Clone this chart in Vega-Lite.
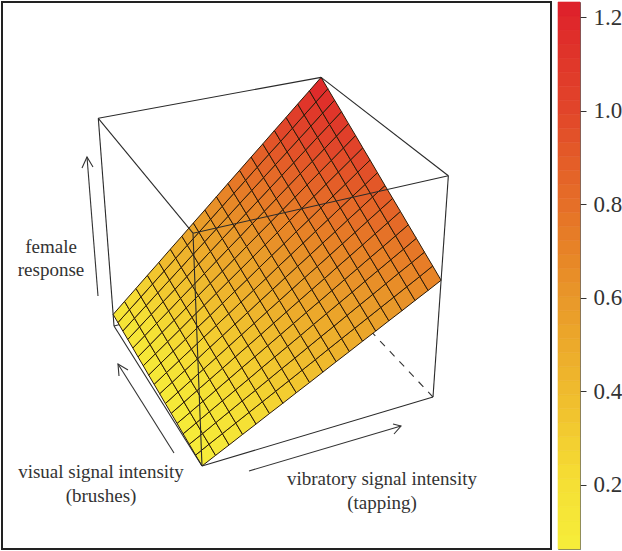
{"$schema":"https://vega.github.io/schema/vega-lite/v6.json","padding":{"left":1,"top":1,"right":0,"bottom":0},"background":"white","spacing":5,"datasets":{"edges":[{"e":"CD","t":"h","k":0,"u":0,"v":1,"w":0},{"e":"CD","t":"h","k":1,"u":1,"v":1,"w":0},{"e":"BD","t":"h","k":0,"u":1,"v":0,"w":0},{"e":"BD","t":"h","k":1,"u":1,"v":1,"w":0},{"e":"DH","t":"h","k":0,"u":1,"v":1,"w":0},{"e":"DH","t":"h","k":1,"u":1,"v":1,"w":1},{"e":"AB","t":"f","k":0,"u":0,"v":0,"w":0},{"e":"AB","t":"f","k":1,"u":1,"v":0,"w":0},{"e":"AC","t":"f","k":0,"u":0,"v":0,"w":0},{"e":"AC","t":"f","k":1,"u":0,"v":1,"w":0},{"e":"AE","t":"f","k":0,"u":0,"v":0,"w":0},{"e":"AE","t":"f","k":1,"u":0,"v":0,"w":1},{"e":"BF","t":"f","k":0,"u":1,"v":0,"w":0},{"e":"BF","t":"f","k":1,"u":1,"v":0,"w":1},{"e":"CG","t":"f","k":0,"u":0,"v":1,"w":0},{"e":"CG","t":"f","k":1,"u":0,"v":1,"w":1},{"e":"EF","t":"f","k":0,"u":0,"v":0,"w":1},{"e":"EF","t":"f","k":1,"u":1,"v":0,"w":1},{"e":"EG","t":"f","k":0,"u":0,"v":0,"w":1},{"e":"EG","t":"f","k":1,"u":0,"v":1,"w":1},{"e":"FH","t":"f","k":0,"u":1,"v":0,"w":1},{"e":"FH","t":"f","k":1,"u":1,"v":1,"w":1},{"e":"GH","t":"f","k":0,"u":0,"v":1,"w":1},{"e":"GH","t":"f","k":1,"u":1,"v":1,"w":1}]},"hconcat":[{"width":549,"height":547,"view":{"stroke":"#222","strokeWidth":2},"layer":[{"data":{"name":"edges"},"transform":[{"filter":"datum.t=='h'"},{"calculate":"1+0.176*datum.u+0.078*datum.v-0.1*datum.w","as":"d"},{"calculate":"(201-68.1*datum.u+264.7*datum.v-28.2*datum.w)/datum.d","as":"x"},{"calculate":"(465-82.8*datum.u-38.1*datum.v-256*datum.w)/datum.d","as":"y"}],"mark":{"type":"line","stroke":"#333","strokeWidth":1.1,"strokeDash":[7,7],"clip":true},"encoding":{"x":{"field":"x","type":"quantitative","scale":{"domain":[1,550]},"axis":null},"y":{"field":"y","type":"quantitative","scale":{"domain":[548,1]},"axis":null},"detail":{"field":"e"},"order":{"field":"k"}}},{"data":{"values":[
{"u":0,"v":0,"z":0.07},{"u":0,"v":1,"z":0.106},{"u":0,"v":2,"z":0.141},{"u":0,"v":3,"z":0.177},{"u":0,"v":4,"z":0.212},{"u":0,"v":5,"z":0.248},{"u":0,"v":6,"z":0.283},{"u":0,"v":7,"z":0.319},{"u":0,"v":8,"z":0.354},{"u":0,"v":9,"z":0.39},{"u":0,"v":10,"z":0.426},{"u":0,"v":11,"z":0.461},{"u":0,"v":12,"z":0.497},{"u":0,"v":13,"z":0.532},{"u":0,"v":14,"z":0.568},{"u":0,"v":15,"z":0.603},{"u":0,"v":16,"z":0.639},{"u":0,"v":17,"z":0.674},{"u":0,"v":18,"z":0.71},
{"u":1,"v":0,"z":0.074},{"u":1,"v":1,"z":0.112},{"u":1,"v":2,"z":0.149},{"u":1,"v":3,"z":0.186},{"u":1,"v":4,"z":0.223},{"u":1,"v":5,"z":0.26},{"u":1,"v":6,"z":0.297},{"u":1,"v":7,"z":0.334},{"u":1,"v":8,"z":0.371},{"u":1,"v":9,"z":0.408},{"u":1,"v":10,"z":0.446},{"u":1,"v":11,"z":0.483},{"u":1,"v":12,"z":0.52},{"u":1,"v":13,"z":0.557},{"u":1,"v":14,"z":0.594},{"u":1,"v":15,"z":0.631},{"u":1,"v":16,"z":0.668},{"u":1,"v":17,"z":0.705},{"u":1,"v":18,"z":0.743},
{"u":2,"v":0,"z":0.079},{"u":2,"v":1,"z":0.117},{"u":2,"v":2,"z":0.156},{"u":2,"v":3,"z":0.195},{"u":2,"v":4,"z":0.234},{"u":2,"v":5,"z":0.272},{"u":2,"v":6,"z":0.311},{"u":2,"v":7,"z":0.35},{"u":2,"v":8,"z":0.388},{"u":2,"v":9,"z":0.427},{"u":2,"v":10,"z":0.466},{"u":2,"v":11,"z":0.504},{"u":2,"v":12,"z":0.543},{"u":2,"v":13,"z":0.582},{"u":2,"v":14,"z":0.62},{"u":2,"v":15,"z":0.659},{"u":2,"v":16,"z":0.698},{"u":2,"v":17,"z":0.736},{"u":2,"v":18,"z":0.775},
{"u":3,"v":0,"z":0.083},{"u":3,"v":1,"z":0.123},{"u":3,"v":2,"z":0.164},{"u":3,"v":3,"z":0.204},{"u":3,"v":4,"z":0.244},{"u":3,"v":5,"z":0.284},{"u":3,"v":6,"z":0.325},{"u":3,"v":7,"z":0.365},{"u":3,"v":8,"z":0.405},{"u":3,"v":9,"z":0.445},{"u":3,"v":10,"z":0.486},{"u":3,"v":11,"z":0.526},{"u":3,"v":12,"z":0.566},{"u":3,"v":13,"z":0.606},{"u":3,"v":14,"z":0.647},{"u":3,"v":15,"z":0.687},{"u":3,"v":16,"z":0.727},{"u":3,"v":17,"z":0.767},{"u":3,"v":18,"z":0.808},
{"u":4,"v":0,"z":0.088},{"u":4,"v":1,"z":0.129},{"u":4,"v":2,"z":0.171},{"u":4,"v":3,"z":0.213},{"u":4,"v":4,"z":0.255},{"u":4,"v":5,"z":0.297},{"u":4,"v":6,"z":0.338},{"u":4,"v":7,"z":0.38},{"u":4,"v":8,"z":0.422},{"u":4,"v":9,"z":0.464},{"u":4,"v":10,"z":0.506},{"u":4,"v":11,"z":0.547},{"u":4,"v":12,"z":0.589},{"u":4,"v":13,"z":0.631},{"u":4,"v":14,"z":0.673},{"u":4,"v":15,"z":0.715},{"u":4,"v":16,"z":0.756},{"u":4,"v":17,"z":0.798},{"u":4,"v":18,"z":0.84},
{"u":5,"v":0,"z":0.092},{"u":5,"v":1,"z":0.135},{"u":5,"v":2,"z":0.179},{"u":5,"v":3,"z":0.222},{"u":5,"v":4,"z":0.265},{"u":5,"v":5,"z":0.309},{"u":5,"v":6,"z":0.352},{"u":5,"v":7,"z":0.395},{"u":5,"v":8,"z":0.439},{"u":5,"v":9,"z":0.482},{"u":5,"v":10,"z":0.526},{"u":5,"v":11,"z":0.569},{"u":5,"v":12,"z":0.612},{"u":5,"v":13,"z":0.656},{"u":5,"v":14,"z":0.699},{"u":5,"v":15,"z":0.742},{"u":5,"v":16,"z":0.786},{"u":5,"v":17,"z":0.829},{"u":5,"v":18,"z":0.873},
{"u":6,"v":0,"z":0.096},{"u":6,"v":1,"z":0.141},{"u":6,"v":2,"z":0.186},{"u":6,"v":3,"z":0.231},{"u":6,"v":4,"z":0.276},{"u":6,"v":5,"z":0.321},{"u":6,"v":6,"z":0.366},{"u":6,"v":7,"z":0.411},{"u":6,"v":8,"z":0.456},{"u":6,"v":9,"z":0.501},{"u":6,"v":10,"z":0.546},{"u":6,"v":11,"z":0.591},{"u":6,"v":12,"z":0.635},{"u":6,"v":13,"z":0.68},{"u":6,"v":14,"z":0.725},{"u":6,"v":15,"z":0.77},{"u":6,"v":16,"z":0.815},{"u":6,"v":17,"z":0.86},{"u":6,"v":18,"z":0.905},
{"u":7,"v":0,"z":0.101},{"u":7,"v":1,"z":0.147},{"u":7,"v":2,"z":0.194},{"u":7,"v":3,"z":0.24},{"u":7,"v":4,"z":0.287},{"u":7,"v":5,"z":0.333},{"u":7,"v":6,"z":0.38},{"u":7,"v":7,"z":0.426},{"u":7,"v":8,"z":0.473},{"u":7,"v":9,"z":0.519},{"u":7,"v":10,"z":0.566},{"u":7,"v":11,"z":0.612},{"u":7,"v":12,"z":0.658},{"u":7,"v":13,"z":0.705},{"u":7,"v":14,"z":0.751},{"u":7,"v":15,"z":0.798},{"u":7,"v":16,"z":0.844},{"u":7,"v":17,"z":0.891},{"u":7,"v":18,"z":0.937},
{"u":8,"v":0,"z":0.105},{"u":8,"v":1,"z":0.153},{"u":8,"v":2,"z":0.201},{"u":8,"v":3,"z":0.249},{"u":8,"v":4,"z":0.297},{"u":8,"v":5,"z":0.345},{"u":8,"v":6,"z":0.393},{"u":8,"v":7,"z":0.441},{"u":8,"v":8,"z":0.489},{"u":8,"v":9,"z":0.537},{"u":8,"v":10,"z":0.586},{"u":8,"v":11,"z":0.634},{"u":8,"v":12,"z":0.682},{"u":8,"v":13,"z":0.73},{"u":8,"v":14,"z":0.778},{"u":8,"v":15,"z":0.826},{"u":8,"v":16,"z":0.874},{"u":8,"v":17,"z":0.922},{"u":8,"v":18,"z":0.97},
{"u":9,"v":0,"z":0.109},{"u":9,"v":1,"z":0.159},{"u":9,"v":2,"z":0.209},{"u":9,"v":3,"z":0.258},{"u":9,"v":4,"z":0.308},{"u":9,"v":5,"z":0.357},{"u":9,"v":6,"z":0.407},{"u":9,"v":7,"z":0.457},{"u":9,"v":8,"z":0.506},{"u":9,"v":9,"z":0.556},{"u":9,"v":10,"z":0.606},{"u":9,"v":11,"z":0.655},{"u":9,"v":12,"z":0.705},{"u":9,"v":13,"z":0.754},{"u":9,"v":14,"z":0.804},{"u":9,"v":15,"z":0.854},{"u":9,"v":16,"z":0.903},{"u":9,"v":17,"z":0.953},{"u":9,"v":18,"z":1.003},
{"u":10,"v":0,"z":0.114},{"u":10,"v":1,"z":0.165},{"u":10,"v":2,"z":0.216},{"u":10,"v":3,"z":0.267},{"u":10,"v":4,"z":0.319},{"u":10,"v":5,"z":0.37},{"u":10,"v":6,"z":0.421},{"u":10,"v":7,"z":0.472},{"u":10,"v":8,"z":0.523},{"u":10,"v":9,"z":0.574},{"u":10,"v":10,"z":0.626},{"u":10,"v":11,"z":0.677},{"u":10,"v":12,"z":0.728},{"u":10,"v":13,"z":0.779},{"u":10,"v":14,"z":0.83},{"u":10,"v":15,"z":0.882},{"u":10,"v":16,"z":0.933},{"u":10,"v":17,"z":0.984},{"u":10,"v":18,"z":1.035},
{"u":11,"v":0,"z":0.118},{"u":11,"v":1,"z":0.171},{"u":11,"v":2,"z":0.224},{"u":11,"v":3,"z":0.276},{"u":11,"v":4,"z":0.329},{"u":11,"v":5,"z":0.382},{"u":11,"v":6,"z":0.435},{"u":11,"v":7,"z":0.487},{"u":11,"v":8,"z":0.54},{"u":11,"v":9,"z":0.593},{"u":11,"v":10,"z":0.646},{"u":11,"v":11,"z":0.698},{"u":11,"v":12,"z":0.751},{"u":11,"v":13,"z":0.804},{"u":11,"v":14,"z":0.857},{"u":11,"v":15,"z":0.909},{"u":11,"v":16,"z":0.962},{"u":11,"v":17,"z":1.015},{"u":11,"v":18,"z":1.068},
{"u":12,"v":0,"z":0.123},{"u":12,"v":1,"z":0.177},{"u":12,"v":2,"z":0.231},{"u":12,"v":3,"z":0.285},{"u":12,"v":4,"z":0.34},{"u":12,"v":5,"z":0.394},{"u":12,"v":6,"z":0.448},{"u":12,"v":7,"z":0.503},{"u":12,"v":8,"z":0.557},{"u":12,"v":9,"z":0.611},{"u":12,"v":10,"z":0.666},{"u":12,"v":11,"z":0.72},{"u":12,"v":12,"z":0.774},{"u":12,"v":13,"z":0.829},{"u":12,"v":14,"z":0.883},{"u":12,"v":15,"z":0.937},{"u":12,"v":16,"z":0.991},{"u":12,"v":17,"z":1.046},{"u":12,"v":18,"z":1.1},
{"u":13,"v":0,"z":0.127},{"u":13,"v":1,"z":0.183},{"u":13,"v":2,"z":0.239},{"u":13,"v":3,"z":0.295},{"u":13,"v":4,"z":0.35},{"u":13,"v":5,"z":0.406},{"u":13,"v":6,"z":0.462},{"u":13,"v":7,"z":0.518},{"u":13,"v":8,"z":0.574},{"u":13,"v":9,"z":0.63},{"u":13,"v":10,"z":0.686},{"u":13,"v":11,"z":0.741},{"u":13,"v":12,"z":0.797},{"u":13,"v":13,"z":0.853},{"u":13,"v":14,"z":0.909},{"u":13,"v":15,"z":0.965},{"u":13,"v":16,"z":1.021},{"u":13,"v":17,"z":1.077},{"u":13,"v":18,"z":1.133},
{"u":14,"v":0,"z":0.131},{"u":14,"v":1,"z":0.189},{"u":14,"v":2,"z":0.246},{"u":14,"v":3,"z":0.304},{"u":14,"v":4,"z":0.361},{"u":14,"v":5,"z":0.418},{"u":14,"v":6,"z":0.476},{"u":14,"v":7,"z":0.533},{"u":14,"v":8,"z":0.591},{"u":14,"v":9,"z":0.648},{"u":14,"v":10,"z":0.706},{"u":14,"v":11,"z":0.763},{"u":14,"v":12,"z":0.82},{"u":14,"v":13,"z":0.878},{"u":14,"v":14,"z":0.935},{"u":14,"v":15,"z":0.993},{"u":14,"v":16,"z":1.05},{"u":14,"v":17,"z":1.108},{"u":14,"v":18,"z":1.165},
{"u":15,"v":0,"z":0.136},{"u":15,"v":1,"z":0.195},{"u":15,"v":2,"z":0.254},{"u":15,"v":3,"z":0.313},{"u":15,"v":4,"z":0.372},{"u":15,"v":5,"z":0.431},{"u":15,"v":6,"z":0.49},{"u":15,"v":7,"z":0.549},{"u":15,"v":8,"z":0.608},{"u":15,"v":9,"z":0.667},{"u":15,"v":10,"z":0.726},{"u":15,"v":11,"z":0.785},{"u":15,"v":12,"z":0.844},{"u":15,"v":13,"z":0.903},{"u":15,"v":14,"z":0.961},{"u":15,"v":15,"z":1.02},{"u":15,"v":16,"z":1.079},{"u":15,"v":17,"z":1.138},{"u":15,"v":18,"z":1.197},
{"u":16,"v":0,"z":0.14},{"u":16,"v":1,"z":0.201},{"u":16,"v":2,"z":0.261},{"u":16,"v":3,"z":0.322},{"u":16,"v":4,"z":0.382},{"u":16,"v":5,"z":0.443},{"u":16,"v":6,"z":0.503},{"u":16,"v":7,"z":0.564},{"u":16,"v":8,"z":0.624},{"u":16,"v":9,"z":0.685},{"u":16,"v":10,"z":0.746},{"u":16,"v":11,"z":0.806},{"u":16,"v":12,"z":0.867},{"u":16,"v":13,"z":0.927},{"u":16,"v":14,"z":0.988},{"u":16,"v":15,"z":1.048},{"u":16,"v":16,"z":1.109},{"u":16,"v":17,"z":1.169},{"u":16,"v":18,"z":1.23}
]},"transform":[{"calculate":"[0,1,2,3,4]","as":"k"},{"flatten":["k"]},{"calculate":"datum.u-[0,1,1,0,0][datum.k]","as":"cu"},{"calculate":"datum.v-[0,0,1,1,0][datum.k]","as":"cv"},{"filter":"datum.cu>=0&&datum.cu<16&&datum.cv>=0&&datum.cv<18"},{"calculate":"datum.cu*100+datum.cv","as":"cell"},{"joinaggregate":[{"op":"mean","field":"z","as":"zc"}],"groupby":["cell"]},{"calculate":"datum.u/16","as":"U"},{"calculate":"datum.v/18","as":"V"},{"calculate":"(datum.z-0.07)/1.16","as":"W"},{"calculate":"1+0.176*datum.U+0.078*datum.V-0.1*datum.W","as":"d"},{"calculate":"(201-68.1*datum.U+264.7*datum.V-28.2*datum.W)/datum.d","as":"x"},{"calculate":"(465-82.8*datum.U-38.1*datum.V-256*datum.W)/datum.d","as":"y"}],"mark":{"type":"line","filled":true,"stroke":"#2b1a08","strokeWidth":1,"clip":true},"encoding":{"x":{"field":"x","type":"quantitative","scale":{"domain":[1,550]},"axis":null},"y":{"field":"y","type":"quantitative","scale":{"domain":[548,1]},"axis":null},"detail":{"field":"cell"},"order":{"field":"k"},"fill":{"field":"zc","type":"quantitative","legend":null,"scale":{"domain":[0.063,0.2,0.4,0.6,0.8,1.0,1.23],"range":["#f6ee3a","#f5e035","#efbb2e","#e8982a","#e56f28","#e1452a","#de1f2b"]}}}},{"data":{"name":"edges"},"transform":[{"filter":"datum.t=='f'"},{"calculate":"1+0.176*datum.u+0.078*datum.v-0.1*datum.w","as":"d"},{"calculate":"(201-68.1*datum.u+264.7*datum.v-28.2*datum.w)/datum.d","as":"x"},{"calculate":"(465-82.8*datum.u-38.1*datum.v-256*datum.w)/datum.d","as":"y"}],"mark":{"type":"line","stroke":"#2a2a2a","strokeWidth":1.1,"clip":true},"encoding":{"x":{"field":"x","type":"quantitative","scale":{"domain":[1,550]},"axis":null},"y":{"field":"y","type":"quantitative","scale":{"domain":[548,1]},"axis":null},"detail":{"field":"e"},"order":{"field":"k"}}},{"data":{"values":[{"a":"v","k":0,"x":248,"y":470},{"a":"v","k":1,"x":400,"y":425},{"a":"vh","k":0,"x":392,"y":423},{"a":"vh","k":1,"x":400,"y":425},{"a":"vh","k":2,"x":393,"y":433},{"a":"u","k":0,"x":173,"y":452},{"a":"u","k":1,"x":117,"y":363},{"a":"uh","k":0,"x":127,"y":369},{"a":"uh","k":1,"x":117,"y":363},{"a":"uh","k":2,"x":118,"y":375},{"a":"z","k":0,"x":97,"y":295},{"a":"z","k":1,"x":86,"y":156},{"a":"zh","k":0,"x":81,"y":167},{"a":"zh","k":1,"x":86,"y":156},{"a":"zh","k":2,"x":92,"y":166}]},"mark":{"type":"line","stroke":"#333","strokeWidth":1.1},"encoding":{"x":{"field":"x","type":"quantitative","scale":{"domain":[1,550]},"axis":null},"y":{"field":"y","type":"quantitative","scale":{"domain":[548,1]},"axis":null},"detail":{"field":"a"},"order":{"field":"k"}}},{"data":{"values":[{"t":"female","x":50,"y":246},{"t":"response","x":50,"y":269},{"t":"visual signal intensity","x":100,"y":471},{"t":"(brushes)","x":100,"y":495},{"t":"vibratory signal intensity","x":381,"y":478},{"t":"(tapping)","x":381,"y":502}]},"mark":{"type":"text","font":"Liberation Serif","fontSize":19,"color":"#333","align":"center","baseline":"middle"},"encoding":{"x":{"field":"x","type":"quantitative","scale":{"domain":[1,550]},"axis":null},"y":{"field":"y","type":"quantitative","scale":{"domain":[548,1]},"axis":null},"text":{"field":"t"}}}]},{"width":22,"height":547,"view":{"stroke":"#666","strokeWidth":1},"data":{"values":[{"c":0.078,"lo":0.063,"hi":0.093},{"c":0.108,"lo":0.093,"hi":0.123},{"c":0.138,"lo":0.123,"hi":0.153},{"c":0.168,"lo":0.153,"hi":0.183},{"c":0.198,"lo":0.183,"hi":0.213},{"c":0.228,"lo":0.213,"hi":0.243},{"c":0.258,"lo":0.243,"hi":0.273},{"c":0.288,"lo":0.273,"hi":0.303},{"c":0.318,"lo":0.303,"hi":0.333},{"c":0.348,"lo":0.333,"hi":0.363},{"c":0.378,"lo":0.363,"hi":0.393},{"c":0.408,"lo":0.393,"hi":0.423},{"c":0.438,"lo":0.423,"hi":0.453},{"c":0.468,"lo":0.453,"hi":0.483},{"c":0.498,"lo":0.483,"hi":0.513},{"c":0.528,"lo":0.513,"hi":0.543},{"c":0.558,"lo":0.543,"hi":0.573},{"c":0.588,"lo":0.573,"hi":0.603},{"c":0.618,"lo":0.603,"hi":0.633},{"c":0.648,"lo":0.633,"hi":0.663},{"c":0.678,"lo":0.663,"hi":0.693},{"c":0.708,"lo":0.693,"hi":0.723},{"c":0.738,"lo":0.723,"hi":0.753},{"c":0.768,"lo":0.753,"hi":0.783},{"c":0.798,"lo":0.783,"hi":0.813},{"c":0.828,"lo":0.813,"hi":0.843},{"c":0.858,"lo":0.843,"hi":0.873},{"c":0.888,"lo":0.873,"hi":0.903},{"c":0.918,"lo":0.903,"hi":0.933},{"c":0.948,"lo":0.933,"hi":0.963},{"c":0.978,"lo":0.963,"hi":0.993},{"c":1.008,"lo":0.993,"hi":1.023},{"c":1.038,"lo":1.023,"hi":1.053},{"c":1.068,"lo":1.053,"hi":1.083},{"c":1.098,"lo":1.083,"hi":1.113},{"c":1.128,"lo":1.113,"hi":1.143},{"c":1.158,"lo":1.143,"hi":1.173},{"c":1.188,"lo":1.173,"hi":1.203},{"c":1.218,"lo":1.203,"hi":1.233}]},"mark":{"type":"rect","strokeWidth":0.6},"encoding":{"y":{"field":"lo","type":"quantitative","scale":{"domain":[0.063,1.233],"nice":false,"zero":false},"axis":{"orient":"right","title":null,"values":[0.2,0.4,0.6,0.8,1.0,1.2],"format":".1f","grid":false,"domain":false,"tickSize":6,"tickColor":"#333","labelFont":"Liberation Serif","labelFontSize":23,"labelColor":"#333","labelPadding":7}},"y2":{"field":"hi"},"fill":{"field":"c","type":"quantitative","legend":null,"scale":{"domain":[0.063,0.2,0.4,0.6,0.8,1.0,1.23],"range":["#f6ee3a","#f5e035","#efbb2e","#e8982a","#e56f28","#e1452a","#de1f2b"]}},"stroke":{"field":"c","type":"quantitative","legend":null,"scale":{"domain":[0.063,0.2,0.4,0.6,0.8,1.0,1.23],"range":["#f6ee3a","#f5e035","#efbb2e","#e8982a","#e56f28","#e1452a","#de1f2b"]}}}}],"resolve":{"scale":{"color":"independent"}},"config":{"axis":{"labelFlush":false}}}
